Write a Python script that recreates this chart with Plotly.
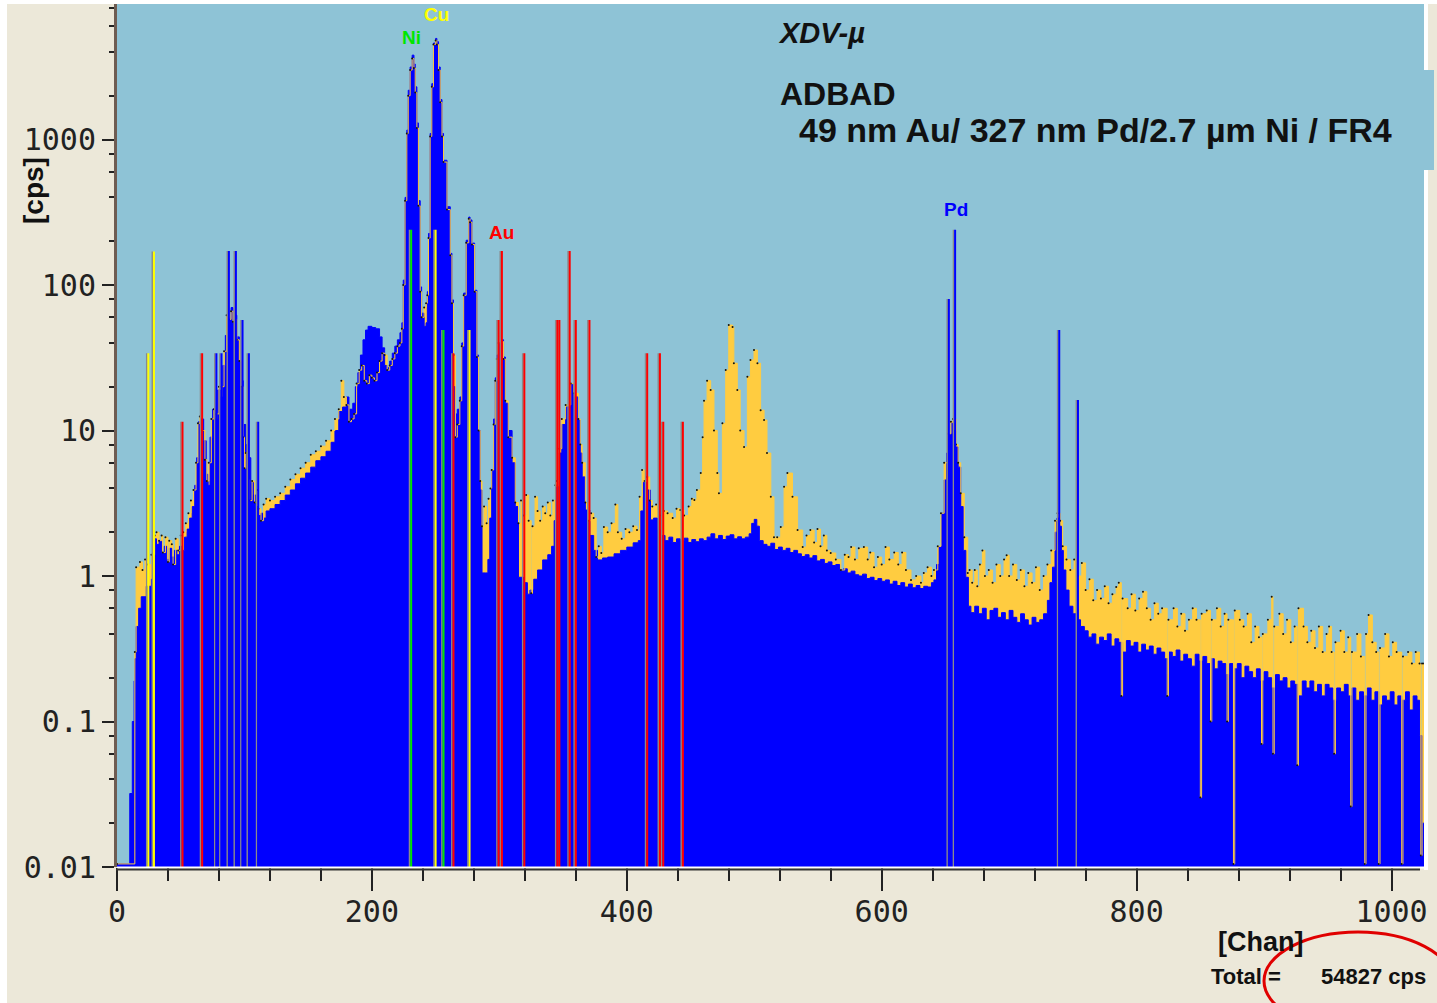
import numpy as np
import plotly.graph_objects as go

# ---------------- spectrum data ----------------
# blue spectrum (front)
blue_ch = [0, 9, 10, 12, 13.4, 14, 15, 17, 19, 23, 27, 29.5, 31, 33, 35, 37, 39, 41, 43, 45, 47, 49, 51, 53, 55, 57, 59, 61, 62.5, 64, 66, 68, 70, 71.5, 73, 75, 77, 79, 81, 83, 85, 86.5, 88, 89.5, 91, 92.5, 94, 96, 97.5, 99, 101, 103, 105, 107, 109, 111, 113, 115, 117, 120, 124, 128, 132, 136, 140, 144, 148, 152, 156, 160, 164, 168, 171, 174, 177, 180, 182, 185, 187, 189, 191, 193, 195, 197, 200, 203, 206, 208, 210, 212, 214, 216, 218, 220, 222, 223.5, 224.6, 226, 227.4, 228.5, 230, 231.6, 233, 234, 235.3, 236.5, 237.9, 239, 241, 242.5, 243.5, 244.4, 245.7, 247, 248.3, 250, 251, 252.3, 253.6, 255, 256.2, 258.9, 261.5, 262.8, 264, 265.5, 267, 269, 270.5, 272, 274, 276, 277, 278.5, 280.6, 282.4, 283.7, 285, 286.4, 289, 291, 292.5, 294, 295.5, 296.8, 298, 299.4, 302, 303.3, 304.7, 307, 310, 312.5, 315, 319, 322, 324, 327, 330, 334, 338, 341, 343, 345, 347, 349, 352, 356, 358.5, 362, 363.5, 365, 367.5, 371, 374, 377, 381, 385, 390, 395, 400, 405, 409, 411, 413, 416, 418.6, 421, 424, 427, 430, 433, 436, 439, 442, 445, 448, 451, 454, 457, 460, 463, 466, 469, 472, 475, 478, 481, 484, 487, 490, 493, 496, 498, 500, 502, 504, 507, 510, 513, 516, 519, 522, 525, 528, 531, 534, 537, 540, 543, 546, 549, 552, 555, 558, 561, 564, 567, 570, 573, 576, 579, 582, 585, 588, 591, 594, 597, 600, 603, 606, 609, 612, 615, 618, 621, 624, 627, 630, 633, 636, 639, 641, 643, 645, 647, 649, 651, 653, 654.5, 656.5, 658, 660, 662, 664, 666, 668, 670, 673, 676, 679, 682, 685, 688, 691, 694, 697, 700, 703, 706, 709, 712, 715, 718, 721, 724, 727, 730, 732, 734, 736, 737.5, 739.5, 741, 742.5, 744.5, 747, 750, 753, 756, 759, 762, 765, 768, 771, 774, 777, 780, 783, 786, 789, 792, 795, 798, 801, 804, 807, 810, 813, 816, 819, 822, 825, 828, 831, 834, 837, 840, 843, 846, 849, 852, 855, 858, 861, 864, 867, 870, 873, 876, 879, 882, 885, 888, 891, 894, 897, 900, 903, 906, 909, 912, 915, 918, 921, 924, 927, 930, 933, 936, 939, 942, 945, 948, 951, 954, 957, 960, 963, 966, 969, 972, 975, 978, 981, 984, 987, 990, 993, 996, 999, 1002, 1005, 1008, 1011, 1014, 1017, 1020, 1022, 1024, 1025.5]
blue_cps = [0.0105, 0.0105, 0.032, 0.1, 0.19, 0.27, 0.45, 0.6, 0.72, 0.85, 0.95, 1.8, 1.65, 1.75, 1.45, 1.6, 1.3, 1.55, 1.35, 1.5, 1.4, 1.6, 1.5, 1.85, 2.1, 2.5, 3.0, 4.2, 6.5, 11.5, 12, 8.5, 5, 4.2, 9, 14, 12, 19, 17, 28, 45, 60, 58, 70, 55, 62, 44, 30, 22, 11, 8, 6.5, 4.4, 3.6, 3.0, 2.6, 2.7, 2.5, 2.8, 2.9, 3.1, 3.3, 3.6, 3.9, 4.3, 4.7, 5.1, 5.6, 6.2, 6.6, 7.2, 8.3, 10, 13.5, 14.5, 17, 14, 15.4, 20, 25, 33, 42, 49, 52, 51, 50, 44, 37, 28, 27, 30, 34, 38, 42, 47, 55, 108, 400, 1160, 2180, 3150, 3800, 3300, 2300, 1300, 380, 97, 64, 52, 55, 90, 226, 1100, 2420, 4600, 4950, 4700, 3150, 1880, 1100, 720, 345, 165, 79, 20, 13, 14, 17, 40, 88, 203, 293, 280, 194, 92, 33, 10, 3.9, 1.05, 1.05, 1.3, 2.5, 5.35, 12, 23, 33, 40, 42, 32, 15.4, 10, 6, 3, 0.98, 0.9, 0.75, 0.8, 0.95, 1.1, 1.29, 1.4, 1.6, 2.4, 4.1, 7, 11, 14.5, 21, 17, 11.8, 7, 4.8, 2.84, 1.9, 1.5, 1.29, 1.33, 1.35, 1.42, 1.5, 1.58, 1.69, 1.75, 2.8, 4.4, 3.9, 2.43, 2.5, 2.07, 1.9, 1.75, 1.85, 1.7, 1.8, 1.75, 1.82, 1.7, 1.78, 1.72, 1.8, 1.75, 1.85, 1.95, 1.8, 1.9, 1.78, 1.88, 1.92, 1.8, 1.86, 1.8, 1.85, 1.95, 2.3, 2.45, 2.2, 1.75, 1.65, 1.6, 1.68, 1.52, 1.58, 1.5, 1.55, 1.45, 1.5, 1.42, 1.36, 1.4, 1.33, 1.38, 1.27, 1.3, 1.22, 1.25, 1.18, 1.2, 1.1, 1.12, 1.05, 1.08, 1.02, 1.0, 1.03, 0.96, 0.98, 0.93, 0.96, 0.92, 0.94, 0.88, 0.92, 0.86, 0.9, 0.84, 0.88, 0.83, 0.86, 0.82, 0.85, 0.84, 0.9, 0.94, 1.2, 1.58, 2.7, 4.57, 7, 9.5, 11.2, 10, 7.7, 5.6, 3, 1.5, 0.98, 0.62, 0.56, 0.62, 0.55, 0.6, 0.5, 0.58, 0.6, 0.52, 0.56, 0.5, 0.58, 0.52, 0.48, 0.55, 0.5, 0.46, 0.52, 0.48, 0.5, 0.55, 0.68, 0.9, 1.15, 2.0, 2.5, 2.2, 1.5, 1.1, 0.8, 0.62, 0.55, 0.5, 0.45, 0.42, 0.38, 0.4, 0.34, 0.38, 0.36, 0.4, 0.33, 0.37, 0.35, 0.3, 0.36, 0.33, 0.35, 0.3, 0.34, 0.31, 0.33, 0.29, 0.32, 0.3, 0.27, 0.3, 0.28, 0.31, 0.26, 0.29, 0.27, 0.24, 0.29, 0.26, 0.28, 0.25, 0.27, 0.23, 0.26, 0.25, 0.21, 0.25, 0.23, 0.25, 0.2, 0.24, 0.22, 0.2, 0.23, 0.19, 0.22, 0.2, 0.17, 0.21, 0.19, 0.2, 0.17, 0.19, 0.18, 0.15, 0.19, 0.17, 0.19, 0.16, 0.18, 0.15, 0.18, 0.17, 0.14, 0.17, 0.16, 0.18, 0.15, 0.17, 0.14, 0.16, 0.15, 0.17, 0.14, 0.16, 0.13, 0.15, 0.14, 0.16, 0.13, 0.15, 0.14, 0.16, 0.12, 0.15, 0.14, 0.08, 0.02, 0.02]

# yellow spectrum (behind)
yellow_ch = [0, 14, 15, 18, 20, 22, 24, 27, 29.5, 31, 33, 35, 36, 38, 40, 41, 43, 44, 46, 48, 50, 52, 54, 56, 58, 60, 62, 63.5, 65, 67, 69, 70.5, 72, 74, 76, 78, 80, 82, 84, 86, 88, 89.5, 91, 92.5, 94, 96, 97.5, 99, 100, 101, 103, 104, 106, 108, 110, 111, 113, 115, 117, 120, 124, 128, 132, 136, 140, 144, 148, 152, 156, 160, 164, 168, 171, 174, 176, 178, 180, 182, 184, 186, 188, 190, 192, 194, 196, 198, 200, 202, 204, 206, 208, 210, 212, 214, 216, 218, 220, 222, 223.5, 224.6, 226, 227.4, 228.5, 230, 231.6, 233, 234, 235.3, 236.5, 237.9, 239, 241, 242.5, 243.5, 244.4, 245.7, 247, 248.3, 250, 251, 252.3, 253.6, 255, 256.2, 258.9, 261.5, 262.8, 264, 265.5, 267, 269, 270.5, 272, 274, 276, 277, 278.5, 280.6, 282.4, 283.7, 285, 286.4, 288, 290, 291.5, 293, 294, 295.5, 296.8, 298, 299.4, 302, 303.3, 304.7, 307, 310, 312.5, 315, 317, 319, 321, 323, 325, 326, 328, 330, 332, 334, 336, 338, 340, 342, 344, 345, 347, 349, 352, 356, 358.5, 362, 363.5, 365, 367.5, 370, 372, 374, 376, 378, 380, 382, 385, 388, 391, 393, 396, 399, 402, 405, 408, 410, 412, 414, 416, 418, 420, 423, 426, 429, 432, 436, 439, 442, 445, 448.5, 451, 453, 455, 458, 459.5, 460.6, 463, 465.8, 468.4, 471, 472.3, 475, 477.6, 480, 483, 484, 486.7, 489, 492, 494.6, 497, 499.8, 502.5, 505, 507.7, 510, 513, 515.5, 518, 520.8, 523.4, 526, 530, 534, 538, 541, 544, 547, 549.6, 552, 554.6, 557, 560, 564, 568, 571, 574, 576, 579, 582, 586, 589, 591, 594, 597, 600, 603, 606, 609.8, 613, 616, 619, 623, 627, 630.8, 633, 636, 639, 641, 644, 646.5, 649, 652, 654.3, 656, 658.3, 660, 662, 664.8, 667.5, 669, 671, 673, 675, 677, 679, 681, 684, 687, 690, 693, 696, 698, 700, 703, 706, 709, 712, 715, 718, 721, 724, 727, 730, 733, 736, 738, 740, 742, 745, 748, 751, 754, 757, 760, 763, 766, 769, 772, 775, 778, 781, 784, 786, 788, 789, 793, 796, 799, 802, 805, 808, 811, 814, 817, 820, 824, 825, 829, 832, 835, 838, 841, 844, 847, 850, 851, 855, 858, 859, 863, 866, 869, 871, 872, 876, 877, 881, 884, 887, 890, 893, 896, 898, 899, 903, 906, 907, 908, 912, 915, 918, 921, 924, 926, 927, 931, 934, 937, 940, 943, 946, 949, 951, 953, 955, 956, 960, 963, 966, 968, 969, 973, 976, 979, 980, 982, 985, 988, 990, 991, 995, 998, 1001, 1004, 1008, 1009, 1013, 1016, 1019, 1022, 1023, 1024, 1025.5]
yellow_cps = [0.0105, 0.3, 1.15, 1.25, 1.1, 1.3, 1.2, 1.4, 1.9, 2.0, 1.75, 1.9, 1.45, 1.85, 1.25, 1.75, 1.65, 1.2, 1.8, 1.5, 1.9, 2.0, 2.3, 2.7, 3.3, 3.9, 6, 11.2, 12.5, 10, 6.3, 4.5, 6, 12, 14, 13, 20, 20, 35, 62, 58, 66, 56, 58, 42, 30, 20, 9, 5.5, 7, 4.6, 3.3, 4.5, 3.2, 3.9, 2.9, 2.4, 3.1, 3.4, 3.3, 3.5, 3.7, 4.1, 4.6, 5.0, 5.5, 6.0, 6.8, 7.2, 7.8, 8.5, 10, 12, 14, 22, 17, 15, 11.5, 12, 13, 21, 26, 28, 22, 21, 24, 23, 22, 25, 30, 34, 33, 26, 28, 31, 34, 38, 40, 50, 100, 380, 1100, 2000, 3000, 3600, 3100, 2100, 1200, 350, 90, 60, 70, 75, 85, 210, 1050, 2300, 4500, 4800, 4500, 3000, 1800, 1050, 700, 330, 160, 75, 33, 9, 11, 16, 38, 85, 195, 285, 270, 190, 90, 32, 10, 4.5, 2.2, 3.0, 2.3, 3.4, 4, 5.35, 11, 22, 31, 40, 41, 31, 16, 9, 6.5, 3.2, 2.3, 3.3, 2.6, 3.6, 2.4, 0.76, 2.2, 3.5, 2.8, 2.4, 3.0, 2.7, 3.2, 2.6, 3.3, 4.2, 4.5, 7.5, 12, 15, 21, 18, 12, 8, 6, 3.2, 2.4, 2.7, 2.5, 1.35, 1.6, 1.44, 2.17, 2.0, 2.3, 3.1, 2.0, 1.8, 2.1, 2.0, 2.2, 2.07, 3.5, 5.35, 4.5, 4.8, 3.3, 3.0, 3.1, 2.6, 2.8, 2.7, 2.5, 2.9, 2.84, 2.6, 3.0, 3.4, 3.33, 3.9, 5.1, 9, 16, 22, 19, 10, 5.1, 3.7, 11.2, 26, 53, 51.5, 29, 19, 10, 7.7, 23.4, 30.5, 35.7, 29, 13.8, 11.8, 7, 3.5, 1.85, 1.85, 2.17, 4.1, 5.1, 3.5, 2.07, 1.58, 1.9, 2.07, 1.7, 2.1, 1.6, 1.9, 1.5, 1.44, 1.3, 1.1, 1.4, 1.35, 1.58, 1.3, 1.55, 1.58, 1.3, 1.45, 1.15, 1.35, 1.2, 1.58, 1.3, 1.45, 1.2, 1.45, 1.1, 0.94, 1.0, 0.9, 1.05, 1.15, 1.0, 1.1, 1.6, 2.7, 6, 9.5, 11.5, 12, 8, 6, 3.7, 1.85, 1.05, 1.1, 0.9, 1.1, 0.85, 1.2, 1.5, 1.0, 1.1, 0.9, 1.2, 1.0, 1.3, 1.39, 1.0, 1.2, 0.94, 1.1, 0.85, 1.05, 0.9, 1.15, 0.8, 1.0, 1.2, 1.5, 2.4, 2.7, 2.4, 1.6, 1.3, 1.1, 1.3, 1.0, 1.23, 0.8, 0.95, 0.68, 0.8, 0.7, 0.85, 0.65, 0.75, 0.84, 0.9, 0.15, 0.7, 0.6, 0.75, 0.58, 0.7, 0.78, 0.6, 0.5, 0.65, 0.55, 0.6, 0.15, 0.5, 0.6, 0.45, 0.55, 0.42, 0.5, 0.6, 0.5, 0.03, 0.55, 0.58, 0.1, 0.5, 0.6, 0.45, 0.55, 0.1, 0.5, 0.0105, 0.58, 0.5, 0.45, 0.55, 0.35, 0.45, 0.38, 0.07, 0.4, 0.5, 0.72, 0.06, 0.45, 0.55, 0.4, 0.5, 0.35, 0.45, 0.05, 0.6, 0.45, 0.35, 0.42, 0.32, 0.45, 0.3, 0.4, 0.45, 0.3, 0.06, 0.35, 0.42, 0.3, 0.38, 0.026, 0.3, 0.4, 0.28, 0.0105, 0.4, 0.54, 0.35, 0.3, 0.0105, 0.32, 0.4, 0.28, 0.35, 0.3, 0.0105, 0.28, 0.3, 0.25, 0.3, 0.25, 0.012, 0.25, 0.25]

# element marker lines (channel, line height in cps)
cu_line_ch = [24.6, 29.0, 250.0, 276.6]
cu_line_top = [34, 170, 240, 49]
ni_line_ch = [230.8, 256.2]
ni_line_top = [240, 49]
au_line_ch = [51.4, 66.8, 264.0, 299.4, 302.0, 319.6, 345.5, 347.1, 355.2, 360.0, 370.7, 416.0, 426.0, 428.6, 444.0]
au_line_top = [11.5, 34, 34, 57.5, 171, 34, 57.5, 57.5, 171, 57.5, 57.5, 34, 34, 11.5, 11.5]
pd_line_ch = [78.0, 82.0, 87.8, 93.3, 98.5, 103.5, 110.8, 652.7, 657.6, 739.3, 754.0]
pd_line_top = [34, 34, 171, 171, 57.5, 34, 11.5, 80, 240, 49, 16.2]

element_names = ["Ni", "Cu", "Au", "Pd"]
element_colors = ["#00E600", "#FFFF00", "#FF0000", "#0000FF"]
label_ch = [231.0, 250.4, 301.5, 658.0]
label_cps = [5060, 7180, 231, 328]

# ---------------- styling / layout ----------------
W, H = 1437, 1003
L, R, T, B = 117, 1424, 4, 867
PW, PH = R - L, B - T
XMAX = PW / 1.2745
YTOP = -2 + PH / 145.5

BG = "#ECE8D9"
PLOT_BG = "#8EC3D6"
BLUE = "#0000FF"
YELLOW = "#FFCC40"
GRAY = "#8A8A8A"


def px2x(px):
    return (px - L) / PW


def py2y(py):
    return (B - py) / PH


fig = go.Figure()

fig.add_trace(go.Scatter(x=yellow_ch, y=yellow_cps, mode="lines", line=dict(shape="hv", width=0, color=YELLOW),
                         fill="tozeroy", fillcolor=YELLOW, hoverinfo="skip", showlegend=False))
fig.add_trace(go.Scatter(x=blue_ch, y=blue_cps, mode="lines", line=dict(shape="hv", width=1, color=BLUE),
                         fill="tozeroy", fillcolor=BLUE, hoverinfo="skip", showlegend=False))
fig.add_trace(go.Scatter(x=yellow_ch, y=yellow_cps, mode="lines+markers", line=dict(shape="hv", width=1, color=YELLOW),
                         marker=dict(size=2, color="#111111", line=dict(width=0)),
                         hoverinfo="skip", showlegend=False))


def vlines(chs, tops, color, width, shift=0.0):
    xs, ys = [], []
    for c, t in zip(chs, tops):
        xs += [c + shift, c + shift, None]
        ys += [0.003, t, None]
    return go.Scatter(x=xs, y=ys, mode="lines", line=dict(color=color, width=width),
                      hoverinfo="skip", showlegend=False)


for chs, tops, col in [(cu_line_ch, cu_line_top, "#FFFF00"), (ni_line_ch, ni_line_top, "#00E600"),
                       (au_line_ch, au_line_top, "#FF0000"), (pd_line_ch, pd_line_top, "#0000FF")]:
    fig.add_trace(vlines(chs, tops, GRAY, 1.5, shift=-1.3))
    fig.add_trace(vlines(chs, tops, col, 2))

annotations = []
for name, col, c, v in zip(element_names, element_colors, label_ch, label_cps):
    annotations.append(dict(x=c, y=np.log10(v), xref="x", yref="y", text="<b>%s</b>" % name, showarrow=False,
                            font=dict(family="Liberation Sans", size=19, color=col)))

TXT = "Liberation Sans"
annotations += [
    dict(x=px2x(776), y=py2y(33), xref="paper", yref="paper", xanchor="left", yanchor="middle",
         text="<b><i>XDV-µ</i></b>", showarrow=False, font=dict(family=TXT, size=29, color="#111")),
    dict(x=px2x(778), y=py2y(94), xref="paper", yref="paper", xanchor="left", yanchor="middle",
         text="<b>ADBAD</b>", showarrow=False, font=dict(family=TXT, size=32, color="#111")),
    dict(x=px2x(797), y=py2y(130), xref="paper", yref="paper", xanchor="left", yanchor="middle",
         text="<b>49 nm Au/ 327 nm Pd/2.7 µm Ni / FR4</b>", showarrow=False,
         font=dict(family=TXT, size=34, color="#111")),
    dict(x=px2x(33), y=py2y(191), xref="paper", yref="paper", xanchor="center", yanchor="middle",
         text="<b>[cps]</b>", textangle=-90, showarrow=False, font=dict(family=TXT, size=28, color="#111")),
    dict(x=px2x(1260), y=py2y(942), xref="paper", yref="paper", xanchor="center", yanchor="middle",
         text="<b>[Chan]</b>", showarrow=False, font=dict(family=TXT, size=27, color="#111")),
    dict(x=px2x(1209), y=py2y(976), xref="paper", yref="paper", xanchor="left", yanchor="middle",
         text="<b>Total =</b>", showarrow=False, font=dict(family=TXT, size=22, color="#111")),
    dict(x=px2x(1319), y=py2y(976), xref="paper", yref="paper", xanchor="left", yanchor="middle",
         text="<b>54827 cps</b>", showarrow=False, font=dict(family=TXT, size=22, color="#111")),
]

shapes = [
    # white frame strips of the window
    dict(type="rect", xref="paper", yref="paper", x0=px2x(0), x1=px2x(7), y0=py2y(1003), y1=py2y(0),
         fillcolor="white", line=dict(width=0), layer="above"),
    dict(type="rect", xref="paper", yref="paper", x0=px2x(0), x1=px2x(1437), y0=py2y(4), y1=py2y(0),
         fillcolor="white", line=dict(width=0), layer="above"),
    dict(type="rect", xref="paper", yref="paper", x0=px2x(1424), x1=px2x(1428), y0=py2y(870), y1=py2y(4),
         fillcolor="white", line=dict(width=0), layer="above"),
    dict(type="rect", xref="paper", yref="paper", x0=px2x(1424), x1=px2x(1434), y0=py2y(170), y1=py2y(70),
         fillcolor=PLOT_BG, line=dict(width=0), layer="above"),
    # plot bottom edge: white line + dark axis line
    dict(type="line", xref="paper", yref="paper", x0=0, x1=px2x(1428), y0=py2y(867.5), y1=py2y(867.5),
         line=dict(color="white", width=2), layer="above"),
    dict(type="line", xref="paper", yref="paper", x0=px2x(116), x1=px2x(1420), y0=py2y(869.5), y1=py2y(869.5),
         line=dict(color="#333333", width=2), layer="above"),
    # red ellipse round the total
    dict(type="circle", xref="paper", yref="paper", x0=px2x(1264), x1=px2x(1452), y0=py2y(1030),
         y1=py2y(932), line=dict(color="#E00000", width=3)),
]

minor_y = [m * 10.0 ** e for e in range(-2, 4) for m in (2, 4, 6, 8)]

fig.update_layout(
    width=W, height=H,
    margin=dict(l=L, r=W - R, t=T, b=H - B, pad=0),
    paper_bgcolor=BG, plot_bgcolor=PLOT_BG,
    showlegend=False,
    annotations=annotations, shapes=shapes,
    xaxis=dict(range=[0, XMAX], tickvals=[0, 200, 400, 600, 800, 1000], ticks="outside", ticklen=23,
               tickwidth=2, tickcolor="#222", showgrid=False, zeroline=False, showline=False,
               tickfont=dict(family="DejaVu Sans Mono", size=30, color="#222"), ticklabelstandoff=-5,
               minor=dict(tickvals=list(range(40, 1025, 40)), ticks="outside", ticklen=13, tickwidth=2,
                          tickcolor="#222", showgrid=False)),
    yaxis=dict(type="log", range=[-2, YTOP], tickvals=[0.01, 0.1, 1, 10, 100, 1000],
               ticktext=["0.01", "0.1", "1", "10", "100", "1000"], ticks="outside", ticklen=12, tickwidth=2,
               tickcolor="#222", showgrid=False, zeroline=False, showline=True, linecolor="#6E5C52",
               linewidth=3, tickfont=dict(family="DejaVu Sans Mono", size=30, color="#222"),
               ticklabelstandoff=0,
               minor=dict(tickvals=minor_y, ticks="outside", ticklen=5, tickwidth=2, tickcolor="#222",
                          showgrid=False)),
)

fig.write_html("out.html")
